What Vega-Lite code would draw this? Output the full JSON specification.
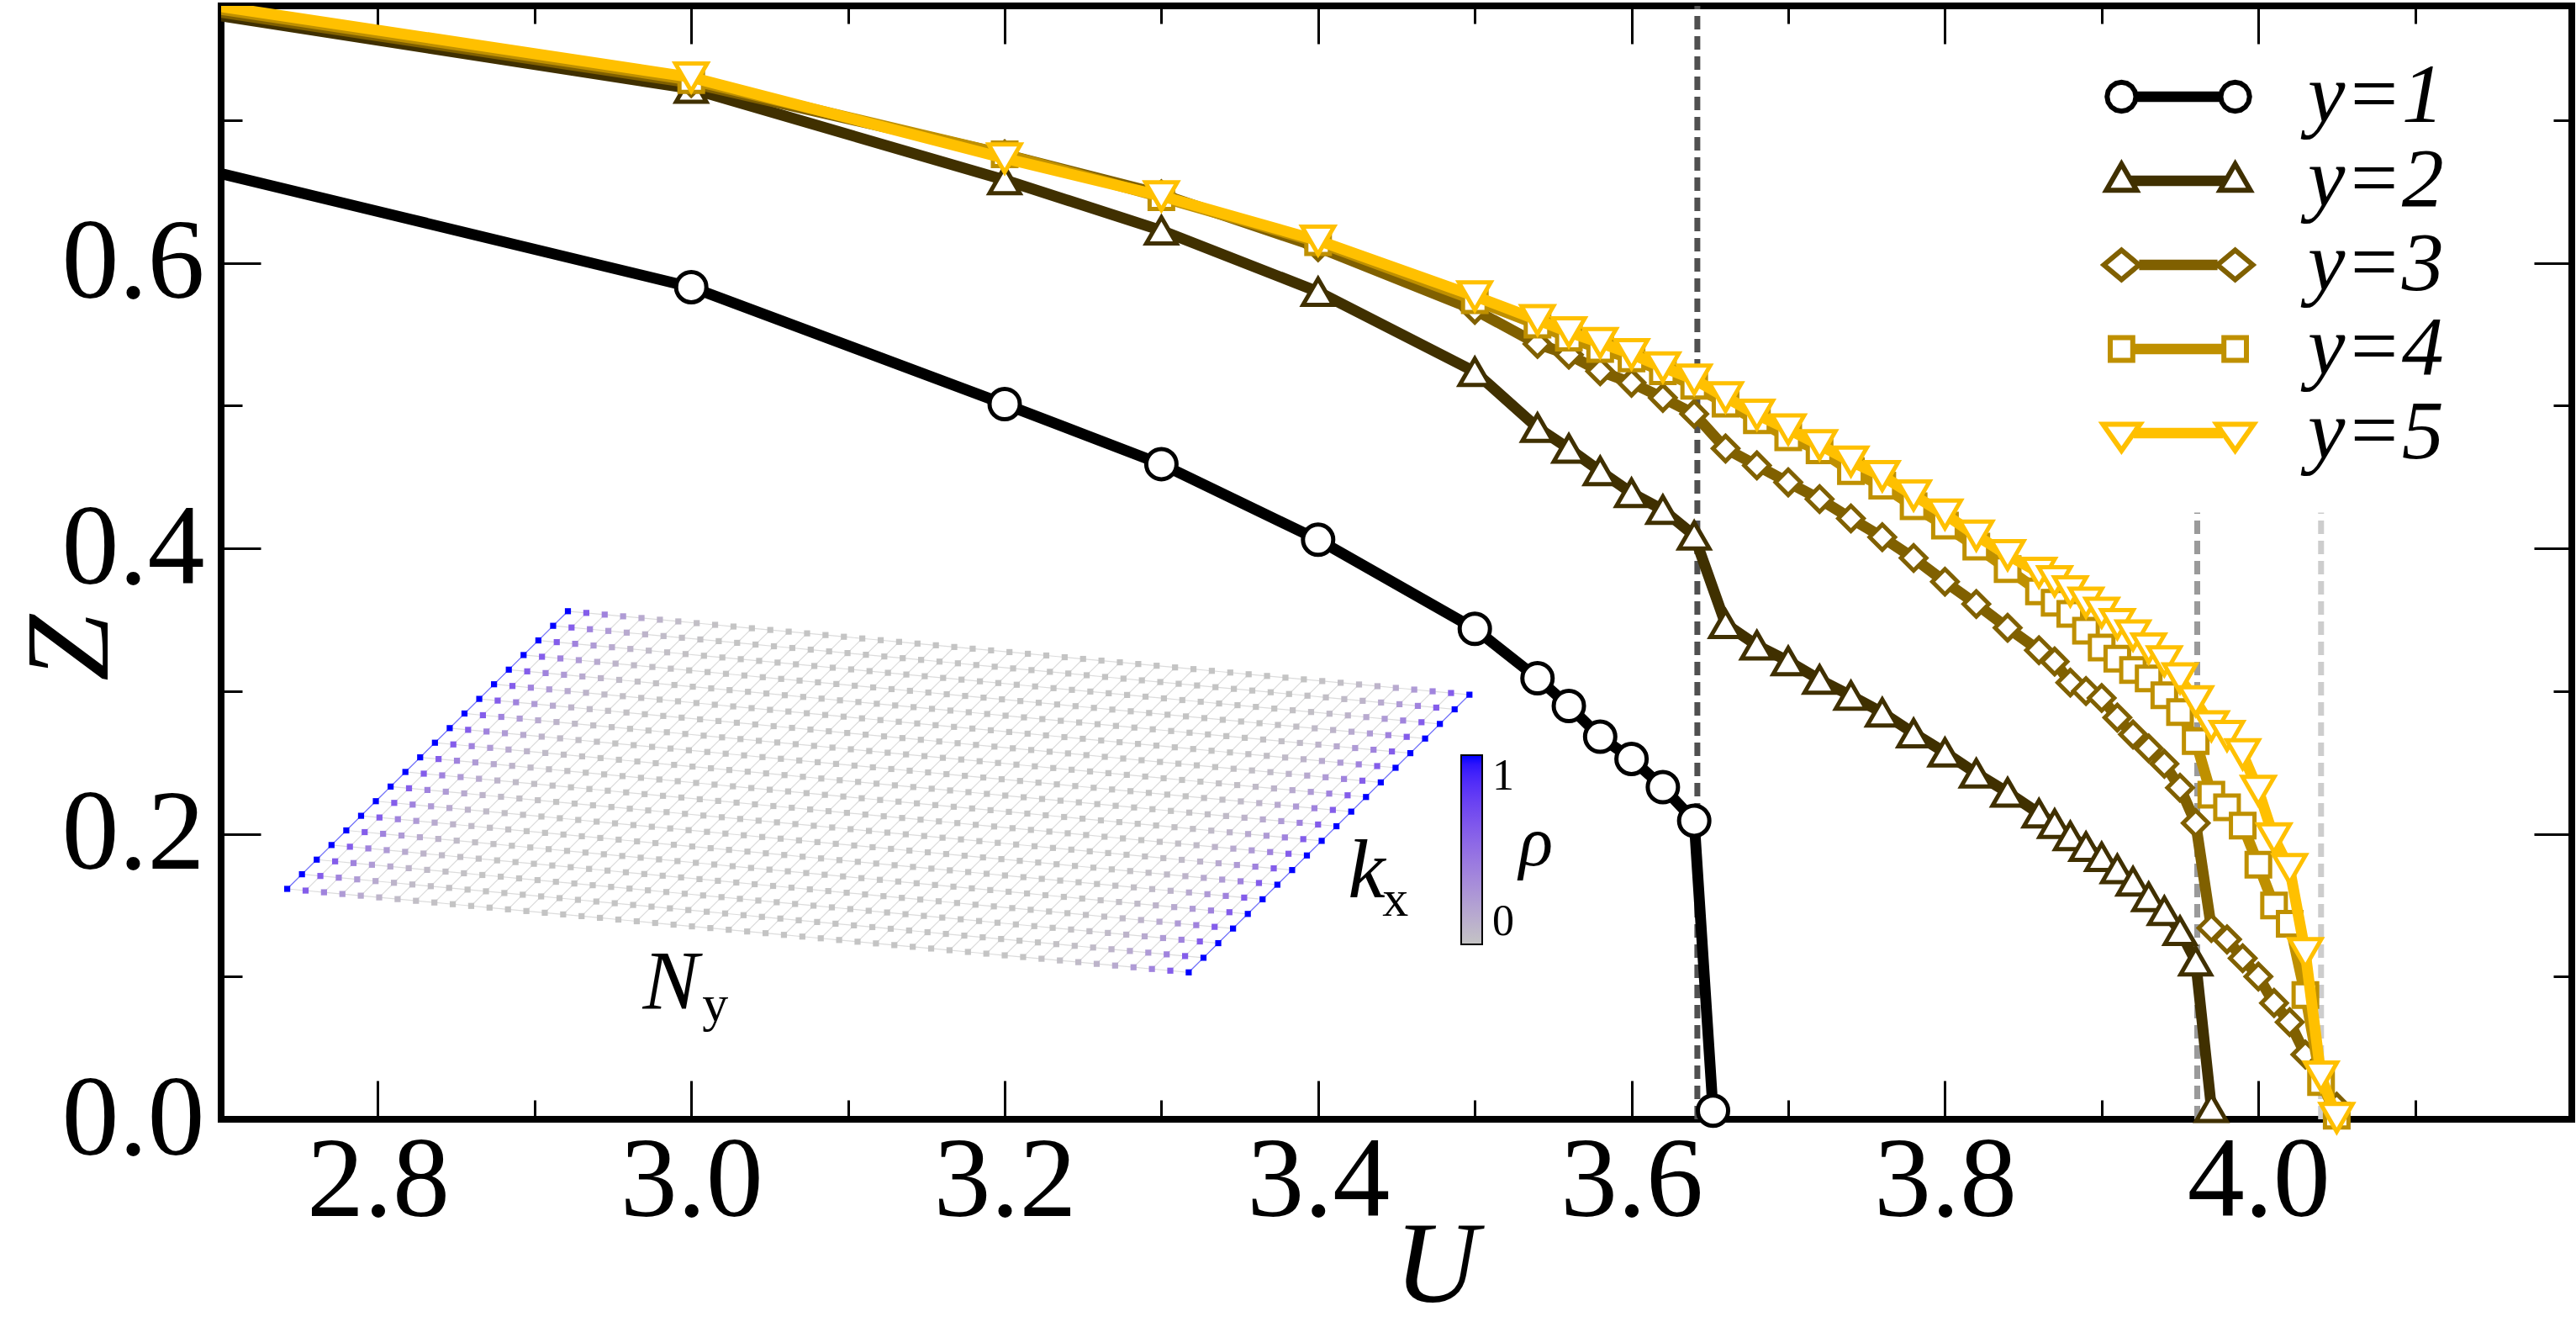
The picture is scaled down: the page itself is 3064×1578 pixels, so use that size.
{
"$schema": "https://vega.github.io/schema/vega-lite/v6.json",
"width": 2796, "height": 1324,
"autosize": {"type": "none"},
"padding": {"left": 263, "top": 7, "right": 5, "bottom": 247},
"config": {"view": {"stroke": "#000000", "strokeWidth": 8}, "font": "Liberation Serif"},
"datasets": {
"series": [
{"s":"y=1","U":2.6,"Z":0.689},{"s":"y=1","U":3.0,"Z":0.583},{"s":"y=1","U":3.2,"Z":0.501},{"s":"y=1","U":3.3,"Z":0.459},{"s":"y=1","U":3.4,"Z":0.406},{"s":"y=1","U":3.5,"Z":0.3436},{"s":"y=1","U":3.54,"Z":0.309},{"s":"y=1","U":3.56,"Z":0.2896},{"s":"y=1","U":3.58,"Z":0.268},{"s":"y=1","U":3.6,"Z":0.2525},{"s":"y=1","U":3.62,"Z":0.2327},{"s":"y=1","U":3.64,"Z":0.2092},{"s":"y=1","U":3.652,"Z":0.006},
{"s":"y=2","U":2.6,"Z":0.79},{"s":"y=2","U":3.0,"Z":0.722},{"s":"y=2","U":3.2,"Z":0.658},{"s":"y=2","U":3.3,"Z":0.6227},{"s":"y=2","U":3.4,"Z":0.5797},{"s":"y=2","U":3.5,"Z":0.5237},{"s":"y=2","U":3.54,"Z":0.4845},{"s":"y=2","U":3.56,"Z":0.4699},{"s":"y=2","U":3.58,"Z":0.4541},{"s":"y=2","U":3.6,"Z":0.4388},{"s":"y=2","U":3.62,"Z":0.427},{"s":"y=2","U":3.64,"Z":0.409},{"s":"y=2","U":3.66,"Z":0.347},{"s":"y=2","U":3.68,"Z":0.332},{"s":"y=2","U":3.7,"Z":0.321},{"s":"y=2","U":3.72,"Z":0.308},{"s":"y=2","U":3.74,"Z":0.2968},{"s":"y=2","U":3.76,"Z":0.285},{"s":"y=2","U":3.78,"Z":0.2705},{"s":"y=2","U":3.8,"Z":0.257},{"s":"y=2","U":3.82,"Z":0.2424},{"s":"y=2","U":3.84,"Z":0.229},{"s":"y=2","U":3.86,"Z":0.2143},{"s":"y=2","U":3.87,"Z":0.207},{"s":"y=2","U":3.88,"Z":0.1985},{"s":"y=2","U":3.89,"Z":0.191},{"s":"y=2","U":3.9,"Z":0.1838},{"s":"y=2","U":3.91,"Z":0.1753},{"s":"y=2","U":3.92,"Z":0.1667},{"s":"y=2","U":3.93,"Z":0.1557},{"s":"y=2","U":3.94,"Z":0.146},{"s":"y=2","U":3.95,"Z":0.132},{"s":"y=2","U":3.96,"Z":0.1107},{"s":"y=2","U":3.97,"Z":0.008},
{"s":"y=3","U":2.6,"Z":0.792},{"s":"y=3","U":3.0,"Z":0.726},{"s":"y=3","U":3.2,"Z":0.676},{"s":"y=3","U":3.3,"Z":0.648},{"s":"y=3","U":3.4,"Z":0.611},{"s":"y=3","U":3.5,"Z":0.567},{"s":"y=3","U":3.54,"Z":0.5432},{"s":"y=3","U":3.56,"Z":0.5357},{"s":"y=3","U":3.58,"Z":0.524},{"s":"y=3","U":3.6,"Z":0.516},{"s":"y=3","U":3.62,"Z":0.5054},{"s":"y=3","U":3.64,"Z":0.4942},{"s":"y=3","U":3.66,"Z":0.4699},{"s":"y=3","U":3.68,"Z":0.4581},{"s":"y=3","U":3.7,"Z":0.4462},{"s":"y=3","U":3.72,"Z":0.4345},{"s":"y=3","U":3.74,"Z":0.4209},{"s":"y=3","U":3.76,"Z":0.4078},{"s":"y=3","U":3.78,"Z":0.3932},{"s":"y=3","U":3.8,"Z":0.3766},{"s":"y=3","U":3.82,"Z":0.361},{"s":"y=3","U":3.84,"Z":0.3443},{"s":"y=3","U":3.86,"Z":0.3286},{"s":"y=3","U":3.87,"Z":0.3207},{"s":"y=3","U":3.88,"Z":0.3059},{"s":"y=3","U":3.89,"Z":0.3},{"s":"y=3","U":3.9,"Z":0.2951},{"s":"y=3","U":3.91,"Z":0.2814},{"s":"y=3","U":3.92,"Z":0.2696},{"s":"y=3","U":3.93,"Z":0.2598},{"s":"y=3","U":3.94,"Z":0.249},{"s":"y=3","U":3.95,"Z":0.2323},{"s":"y=3","U":3.96,"Z":0.2075},{"s":"y=3","U":3.97,"Z":0.134},{"s":"y=3","U":3.98,"Z":0.126},{"s":"y=3","U":3.99,"Z":0.1128},{"s":"y=3","U":4.0,"Z":0.1},{"s":"y=3","U":4.01,"Z":0.0815},{"s":"y=3","U":4.02,"Z":0.068},{"s":"y=3","U":4.03,"Z":0.0454},{"s":"y=3","U":4.05,"Z":0.0088},
{"s":"y=4","U":2.6,"Z":0.794},{"s":"y=4","U":3.0,"Z":0.728},{"s":"y=4","U":3.2,"Z":0.676},{"s":"y=4","U":3.3,"Z":0.646},{"s":"y=4","U":3.4,"Z":0.6144},{"s":"y=4","U":3.5,"Z":0.5738},{"s":"y=4","U":3.54,"Z":0.5567},{"s":"y=4","U":3.56,"Z":0.5476},{"s":"y=4","U":3.58,"Z":0.5397},{"s":"y=4","U":3.6,"Z":0.533},{"s":"y=4","U":3.62,"Z":0.524},{"s":"y=4","U":3.64,"Z":0.5138},{"s":"y=4","U":3.66,"Z":0.5014},{"s":"y=4","U":3.68,"Z":0.4897},{"s":"y=4","U":3.7,"Z":0.4778},{"s":"y=4","U":3.72,"Z":0.4687},{"s":"y=4","U":3.74,"Z":0.4541},{"s":"y=4","U":3.76,"Z":0.4439},{"s":"y=4","U":3.78,"Z":0.4294},{"s":"y=4","U":3.8,"Z":0.4159},{"s":"y=4","U":3.82,"Z":0.4012},{"s":"y=4","U":3.84,"Z":0.3855},{"s":"y=4","U":3.86,"Z":0.3698},{"s":"y=4","U":3.87,"Z":0.3619},{"s":"y=4","U":3.88,"Z":0.354},{"s":"y=4","U":3.89,"Z":0.3423},{"s":"y=4","U":3.9,"Z":0.3305},{"s":"y=4","U":3.91,"Z":0.3227},{"s":"y=4","U":3.92,"Z":0.3148},{"s":"y=4","U":3.93,"Z":0.3089},{"s":"y=4","U":3.94,"Z":0.2971},{"s":"y=4","U":3.95,"Z":0.2853},{"s":"y=4","U":3.96,"Z":0.265},{"s":"y=4","U":3.97,"Z":0.2274},{"s":"y=4","U":3.98,"Z":0.2186},{"s":"y=4","U":3.99,"Z":0.2058},{"s":"y=4","U":4.0,"Z":0.1783},{"s":"y=4","U":4.01,"Z":0.1498},{"s":"y=4","U":4.02,"Z":0.137},{"s":"y=4","U":4.03,"Z":0.087},{"s":"y=4","U":4.04,"Z":0.0261},{"s":"y=4","U":4.05,"Z":0.0025},
{"s":"y=5","U":2.6,"Z":0.796},{"s":"y=5","U":3.0,"Z":0.73},{"s":"y=5","U":3.2,"Z":0.6732},{"s":"y=5","U":3.3,"Z":0.6468},{"s":"y=5","U":3.4,"Z":0.6157},{"s":"y=5","U":3.5,"Z":0.5767},{"s":"y=5","U":3.54,"Z":0.56},{"s":"y=5","U":3.56,"Z":0.5515},{"s":"y=5","U":3.58,"Z":0.544},{"s":"y=5","U":3.6,"Z":0.5361},{"s":"y=5","U":3.62,"Z":0.5269},{"s":"y=5","U":3.64,"Z":0.5183},{"s":"y=5","U":3.66,"Z":0.5059},{"s":"y=5","U":3.68,"Z":0.4937},{"s":"y=5","U":3.7,"Z":0.4834},{"s":"y=5","U":3.72,"Z":0.4724},{"s":"y=5","U":3.74,"Z":0.4609},{"s":"y=5","U":3.76,"Z":0.4507},{"s":"y=5","U":3.78,"Z":0.4371},{"s":"y=5","U":3.8,"Z":0.4238},{"s":"y=5","U":3.82,"Z":0.409},{"s":"y=5","U":3.84,"Z":0.3953},{"s":"y=5","U":3.86,"Z":0.383},{"s":"y=5","U":3.87,"Z":0.377},{"s":"y=5","U":3.88,"Z":0.37},{"s":"y=5","U":3.89,"Z":0.362},{"s":"y=5","U":3.9,"Z":0.355},{"s":"y=5","U":3.91,"Z":0.347},{"s":"y=5","U":3.92,"Z":0.339},{"s":"y=5","U":3.93,"Z":0.33},{"s":"y=5","U":3.94,"Z":0.321},{"s":"y=5","U":3.95,"Z":0.309},{"s":"y=5","U":3.96,"Z":0.293},{"s":"y=5","U":3.97,"Z":0.2755},{"s":"y=5","U":3.98,"Z":0.2686},{"s":"y=5","U":3.99,"Z":0.2558},{"s":"y=5","U":4.0,"Z":0.2303},{"s":"y=5","U":4.01,"Z":0.1969},{"s":"y=5","U":4.02,"Z":0.1754},{"s":"y=5","U":4.03,"Z":0.1165},{"s":"y=5","U":4.04,"Z":0.03},{"s":"y=5","U":4.05,"Z":0.001}
],
"lattice": [
{"j":0,"rho":1,"i":[0,1,2,3,4,5,6,7,8,9,10,11,12,13,14,15,16,17,18,19]},
{"j":1,"rho":0.6,"i":[0,1,2,3,4,5,6,7,8,9,10,11,12,13,14,15,16,17,18,19]},
{"j":2,"rho":0.38,"i":[0,1,2,3,4,5,6,7,8,9,10,11,12,13,14,15,16,17,18,19]},
{"j":3,"rho":0.24,"i":[0,1,2,3,4,5,6,7,8,9,10,11,12,13,14,15,16,17,18,19]},
{"j":4,"rho":0.15,"i":[0,1,2,3,4,5,6,7,8,9,10,11,12,13,14,15,16,17,18,19]},
{"j":5,"rho":0.09,"i":[0,1,2,3,4,5,6,7,8,9,10,11,12,13,14,15,16,17,18,19]},
{"j":6,"rho":0.05,"i":[0,1,2,3,4,5,6,7,8,9,10,11,12,13,14,15,16,17,18,19]},
{"j":7,"rho":0.03,"i":[0,1,2,3,4,5,6,7,8,9,10,11,12,13,14,15,16,17,18,19]},
{"j":8,"rho":0.015,"i":[0,1,2,3,4,5,6,7,8,9,10,11,12,13,14,15,16,17,18,19]},
{"j":9,"rho":0,"i":[0,1,2,3,4,5,6,7,8,9,10,11,12,13,14,15,16,17,18,19]},
{"j":10,"rho":0,"i":[0,1,2,3,4,5,6,7,8,9,10,11,12,13,14,15,16,17,18,19]},
{"j":11,"rho":0,"i":[0,1,2,3,4,5,6,7,8,9,10,11,12,13,14,15,16,17,18,19]},
{"j":12,"rho":0,"i":[0,1,2,3,4,5,6,7,8,9,10,11,12,13,14,15,16,17,18,19]},
{"j":13,"rho":0,"i":[0,1,2,3,4,5,6,7,8,9,10,11,12,13,14,15,16,17,18,19]},
{"j":14,"rho":0,"i":[0,1,2,3,4,5,6,7,8,9,10,11,12,13,14,15,16,17,18,19]},
{"j":15,"rho":0,"i":[0,1,2,3,4,5,6,7,8,9,10,11,12,13,14,15,16,17,18,19]},
{"j":16,"rho":0,"i":[0,1,2,3,4,5,6,7,8,9,10,11,12,13,14,15,16,17,18,19]},
{"j":17,"rho":0,"i":[0,1,2,3,4,5,6,7,8,9,10,11,12,13,14,15,16,17,18,19]},
{"j":18,"rho":0,"i":[0,1,2,3,4,5,6,7,8,9,10,11,12,13,14,15,16,17,18,19]},
{"j":19,"rho":0,"i":[0,1,2,3,4,5,6,7,8,9,10,11,12,13,14,15,16,17,18,19]},
{"j":20,"rho":0,"i":[0,1,2,3,4,5,6,7,8,9,10,11,12,13,14,15,16,17,18,19]},
{"j":21,"rho":0,"i":[0,1,2,3,4,5,6,7,8,9,10,11,12,13,14,15,16,17,18,19]},
{"j":22,"rho":0,"i":[0,1,2,3,4,5,6,7,8,9,10,11,12,13,14,15,16,17,18,19]},
{"j":23,"rho":0,"i":[0,1,2,3,4,5,6,7,8,9,10,11,12,13,14,15,16,17,18,19]},
{"j":24,"rho":0,"i":[0,1,2,3,4,5,6,7,8,9,10,11,12,13,14,15,16,17,18,19]},
{"j":25,"rho":0,"i":[0,1,2,3,4,5,6,7,8,9,10,11,12,13,14,15,16,17,18,19]},
{"j":26,"rho":0,"i":[0,1,2,3,4,5,6,7,8,9,10,11,12,13,14,15,16,17,18,19]},
{"j":27,"rho":0,"i":[0,1,2,3,4,5,6,7,8,9,10,11,12,13,14,15,16,17,18,19]},
{"j":28,"rho":0,"i":[0,1,2,3,4,5,6,7,8,9,10,11,12,13,14,15,16,17,18,19]},
{"j":29,"rho":0,"i":[0,1,2,3,4,5,6,7,8,9,10,11,12,13,14,15,16,17,18,19]},
{"j":30,"rho":0,"i":[0,1,2,3,4,5,6,7,8,9,10,11,12,13,14,15,16,17,18,19]},
{"j":31,"rho":0,"i":[0,1,2,3,4,5,6,7,8,9,10,11,12,13,14,15,16,17,18,19]},
{"j":32,"rho":0,"i":[0,1,2,3,4,5,6,7,8,9,10,11,12,13,14,15,16,17,18,19]},
{"j":33,"rho":0,"i":[0,1,2,3,4,5,6,7,8,9,10,11,12,13,14,15,16,17,18,19]},
{"j":34,"rho":0,"i":[0,1,2,3,4,5,6,7,8,9,10,11,12,13,14,15,16,17,18,19]},
{"j":35,"rho":0,"i":[0,1,2,3,4,5,6,7,8,9,10,11,12,13,14,15,16,17,18,19]},
{"j":36,"rho":0,"i":[0,1,2,3,4,5,6,7,8,9,10,11,12,13,14,15,16,17,18,19]},
{"j":37,"rho":0,"i":[0,1,2,3,4,5,6,7,8,9,10,11,12,13,14,15,16,17,18,19]},
{"j":38,"rho":0,"i":[0,1,2,3,4,5,6,7,8,9,10,11,12,13,14,15,16,17,18,19]},
{"j":39,"rho":0,"i":[0,1,2,3,4,5,6,7,8,9,10,11,12,13,14,15,16,17,18,19]},
{"j":40,"rho":0,"i":[0,1,2,3,4,5,6,7,8,9,10,11,12,13,14,15,16,17,18,19]},
{"j":41,"rho":0.015,"i":[0,1,2,3,4,5,6,7,8,9,10,11,12,13,14,15,16,17,18,19]},
{"j":42,"rho":0.03,"i":[0,1,2,3,4,5,6,7,8,9,10,11,12,13,14,15,16,17,18,19]},
{"j":43,"rho":0.05,"i":[0,1,2,3,4,5,6,7,8,9,10,11,12,13,14,15,16,17,18,19]},
{"j":44,"rho":0.09,"i":[0,1,2,3,4,5,6,7,8,9,10,11,12,13,14,15,16,17,18,19]},
{"j":45,"rho":0.15,"i":[0,1,2,3,4,5,6,7,8,9,10,11,12,13,14,15,16,17,18,19]},
{"j":46,"rho":0.24,"i":[0,1,2,3,4,5,6,7,8,9,10,11,12,13,14,15,16,17,18,19]},
{"j":47,"rho":0.38,"i":[0,1,2,3,4,5,6,7,8,9,10,11,12,13,14,15,16,17,18,19]},
{"j":48,"rho":0.6,"i":[0,1,2,3,4,5,6,7,8,9,10,11,12,13,14,15,16,17,18,19]},
{"j":49,"rho":1,"i":[0,1,2,3,4,5,6,7,8,9,10,11,12,13,14,15,16,17,18,19]}
]
},
"resolve": {"scale": {"x": "independent", "y": "independent"}},
"layer": [
{
 "data": {"name": "lattice"},
 "transform": [{"flatten": ["i"]}],
 "encoding": {
  "x": {"field": "j", "type": "ordinal", "scale": {"type": "point", "padding": 0, "range": [78.6, 1150.9]}, "axis": null},
  "xOffset": {"field": "i", "type": "quantitative", "scale": {"domain": [0, 19], "range": [0, 333.9]}},
  "y": {"field": "j", "type": "ordinal", "scale": {"type": "point", "padding": 0, "range": [1050, 1149.3]}, "axis": null},
  "yOffset": {"field": "i", "type": "quantitative", "scale": {"domain": [0, 19], "range": [0, -330.2]}}
 },
 "layer": [
  {"mark": {"type": "line", "color": "#dcdcdc", "strokeWidth": 1.2},
   "encoding": {"detail": {"field": "i", "type": "nominal"}, "order": {"field": "j", "type": "quantitative"}}},
  {"mark": {"type": "line", "color": "#dcdcdc", "strokeWidth": 1.2},
   "encoding": {"detail": {"field": "j", "type": "nominal"}, "order": {"field": "i", "type": "quantitative"}}},
  {"transform": [{"filter": "datum.rho >= 1"}], "mark": {"type": "line", "color": "#7070ff", "strokeWidth": 1.2},
   "encoding": {"detail": {"field": "j", "type": "nominal"}, "order": {"field": "i", "type": "quantitative"}}},
  {"mark": {"type": "square", "size": 52, "opacity": 1},
   "encoding": {"color": {"field": "rho", "type": "quantitative", "scale": {"domain": [0, 1], "range": ["#c4c4c4", "#0000ff"]},
    "legend": {"title": null, "orient": "none", "legendX": 1475, "legendY": 891, "direction": "vertical", "gradientLength": 225, "gradientThickness": 25, "gradientStrokeColor": "#000000", "gradientStrokeWidth": 2, "values": [0, 1], "format": ".0f", "labelFont": "Liberation Serif", "labelFontSize": 52, "labelColor": "#000000", "labelOffset": 12, "labelBaseline": "middle", "padding": 0}}}}
 ]
},
{
 "resolve": {"axis": {"x": "independent", "y": "independent"}},
 "encoding": {
  "x": {"field": "U", "type": "quantitative", "scale": {"domain": [2.7, 4.2], "nice": false, "zero": false}, "axis": null},
  "y": {"field": "Z", "type": "quantitative", "scale": {"domain": [0, 0.78], "nice": false, "zero": false}, "axis": null}
 },
 "layer": [
  {"data": {"values": [{"U": 3, "Z": 0.3}]}, "mark": {"type": "point", "opacity": 0},
   "encoding": {
    "x": {"field": "U", "type": "quantitative", "scale": {"domain": [2.7, 4.2], "nice": false, "zero": false},
     "axis": {"orient": "bottom", "values": [2.8, 3.0, 3.2, 3.4, 3.6, 3.8, 4.0], "format": ".1f", "domain": false, "ticks": false, "grid": false, "labelFont": "Liberation Serif", "labelFontSize": 136, "labelColor": "#000000", "labelBaseline": "alphabetic", "labelPadding": 114, "labelOverlap": false, "labelFlush": false, "title": "U", "titleFont": "Liberation Serif", "titleFontStyle": "italic", "titleFontWeight": "normal", "titleFontSize": 138, "titleColor": "#000000", "titleX": 1445, "titleY": 216, "titleBaseline": "alphabetic", "titleAlign": "center"}},
    "y": {"field": "Z", "type": "quantitative", "scale": {"domain": [0, 0.78], "nice": false, "zero": false},
     "axis": {"orient": "left", "values": [0, 0.2, 0.4, 0.6], "format": ".1f", "domain": false, "ticks": false, "grid": false, "labelFont": "Liberation Serif", "labelFontSize": 136, "labelColor": "#000000", "labelPadding": 20, "labelBaseline": "middle", "labelAlign": "right", "labelOverlap": false, "labelFlush": false, "title": "Z", "titleFont": "Liberation Serif", "titleFontStyle": "italic", "titleFontWeight": "normal", "titleFontSize": 142, "titleColor": "#000000", "titleAngle": 270, "titleX": -136, "titleY": 763, "titleBaseline": "alphabetic", "titleAlign": "center"}}
   }},
  {"data": {"values": [{"U": 3, "Z": 0.3}]}, "mark": {"type": "point", "opacity": 0},
   "encoding": {
    "x": {"field": "U", "type": "quantitative", "scale": {"domain": [2.7, 4.2], "nice": false, "zero": false},
     "axis": {"orient": "bottom", "values": [2.8, 3.0, 3.2, 3.4, 3.6, 3.8, 4.0], "labels": false, "domain": false, "grid": false, "ticks": true, "tickSize": -46, "tickWidth": 3, "tickColor": "#000000", "title": null}},
    "y": {"field": "Z", "type": "quantitative", "scale": {"domain": [0, 0.78], "nice": false, "zero": false},
     "axis": {"orient": "left", "values": [0.2, 0.4, 0.6], "labels": false, "domain": false, "grid": false, "ticks": true, "tickSize": -47, "tickWidth": 3, "tickColor": "#000000", "title": null}}
   }},
  {"data": {"values": [{"U": 3, "Z": 0.3}]}, "mark": {"type": "point", "opacity": 0},
   "encoding": {
    "x": {"field": "U", "type": "quantitative", "scale": {"domain": [2.7, 4.2], "nice": false, "zero": false},
     "axis": {"orient": "bottom", "values": [2.9, 3.1, 3.3, 3.5, 3.7, 3.9, 4.1], "labels": false, "domain": false, "grid": false, "ticks": true, "tickSize": -23, "tickWidth": 3, "tickColor": "#000000", "title": null}},
    "y": {"field": "Z", "type": "quantitative", "scale": {"domain": [0, 0.78], "nice": false, "zero": false},
     "axis": {"orient": "left", "values": [0.1, 0.3, 0.5, 0.7], "labels": false, "domain": false, "grid": false, "ticks": true, "tickSize": -25, "tickWidth": 3, "tickColor": "#000000", "title": null}}
   }},
  {"data": {"values": [{"U": 3, "Z": 0.3}]}, "mark": {"type": "point", "opacity": 0},
   "encoding": {
    "x": {"field": "U", "type": "quantitative", "scale": {"domain": [2.7, 4.2], "nice": false, "zero": false},
     "axis": {"orient": "top", "values": [2.8, 3.0, 3.2, 3.4, 3.6, 3.8, 4.0], "labels": false, "domain": false, "grid": false, "ticks": true, "tickSize": -45, "tickWidth": 3, "tickColor": "#000000", "title": null}},
    "y": {"field": "Z", "type": "quantitative", "scale": {"domain": [0, 0.78], "nice": false, "zero": false},
     "axis": {"orient": "right", "values": [0.2, 0.4, 0.6], "labels": false, "domain": false, "grid": false, "ticks": true, "tickSize": -45, "tickWidth": 3, "tickColor": "#000000", "title": null}}
   }},
  {"data": {"values": [{"U": 3, "Z": 0.3}]}, "mark": {"type": "point", "opacity": 0},
   "encoding": {
    "x": {"field": "U", "type": "quantitative", "scale": {"domain": [2.7, 4.2], "nice": false, "zero": false},
     "axis": {"orient": "top", "values": [2.9, 3.1, 3.3, 3.5, 3.7, 3.9, 4.1], "labels": false, "domain": false, "grid": false, "ticks": true, "tickSize": -21, "tickWidth": 3, "tickColor": "#000000", "title": null}},
    "y": {"field": "Z", "type": "quantitative", "scale": {"domain": [0, 0.78], "nice": false, "zero": false},
     "axis": {"orient": "right", "values": [0.1, 0.3, 0.5, 0.7], "labels": false, "domain": false, "grid": false, "ticks": true, "tickSize": -22, "tickWidth": 3, "tickColor": "#000000", "title": null}}
   }},
  {"data": {"values": [{"U": 3.642, "Z": 0, "Z2": 0.78}]}, "mark": {"type": "rule", "color": "#505050", "strokeWidth": 7, "strokeDash": [16, 8]}, "encoding": {"y2": {"field": "Z2"}}},
  {"data": {"values": [{"U": 3.961, "Z": 0, "Z2": 0.425}]}, "mark": {"type": "rule", "color": "#9a9a9a", "strokeWidth": 7, "strokeDash": [16, 8]}, "encoding": {"y2": {"field": "Z2"}}},
  {"data": {"values": [{"U": 4.04, "Z": 0, "Z2": 0.425}]}, "mark": {"type": "rule", "color": "#cdcdcd", "strokeWidth": 7, "strokeDash": [16, 8]}, "encoding": {"y2": {"field": "Z2"}}},
  {"data": {"values": [{"t": "N", "U": 2.969, "Z": 0.078}, {"t": "k", "U": 3.419, "Z": 0.1555}]},
   "mark": {"type": "text", "font": "Liberation Serif", "fontStyle": "italic", "fontSize": 100, "align": "left", "baseline": "alphabetic", "color": "#000000"},
   "encoding": {"text": {"field": "t"}}},
  {"data": {"values": [{"t": "y", "U": 3.007, "Z": 0.0689}, {"t": "x", "U": 3.441, "Z": 0.1426}]},
   "mark": {"type": "text", "font": "Liberation Serif", "fontSize": 62, "align": "left", "baseline": "alphabetic", "color": "#000000"},
   "encoding": {"text": {"field": "t"}}},
  {"data": {"values": [{"t": "ρ", "U": 3.539, "Z": 0.178}]},
   "mark": {"type": "text", "font": "Liberation Serif", "fontStyle": "italic", "fontSize": 84, "align": "center", "baseline": "alphabetic", "color": "#000000"},
   "encoding": {"text": {"field": "t"}}},
  {"data": {"name": "series"}, "transform": [{"filter": "datum.s == 'y=1'"}], "layer": [
   {"mark": {"type": "line", "color": "#000000", "strokeWidth": 13, "clip": true}},
   {"transform": [{"filter": "datum.U >= 2.7"}], "mark": {"type": "point", "shape": "circle", "size": 1296, "filled": true, "fill": "#ffffff", "stroke": "#000000", "strokeWidth": 5, "opacity": 1}}
  ]},
  {"data": {"name": "series"}, "transform": [{"filter": "datum.s == 'y=2'"}], "layer": [
   {"mark": {"type": "line", "color": "#403000", "strokeWidth": 13, "clip": true}},
   {"transform": [{"filter": "datum.U >= 2.7"}], "mark": {"type": "point", "shape": "triangle-up", "size": 1296, "filled": true, "fill": "#ffffff", "stroke": "#403000", "strokeWidth": 5, "opacity": 1}}
  ]},
  {"data": {"name": "series"}, "transform": [{"filter": "datum.s == 'y=3'"}], "layer": [
   {"mark": {"type": "line", "color": "#806000", "strokeWidth": 13, "clip": true}},
   {"transform": [{"filter": "datum.U >= 2.7"}], "mark": {"type": "point", "shape": "diamond", "size": 900, "filled": true, "fill": "#ffffff", "stroke": "#806000", "strokeWidth": 5, "opacity": 1}}
  ]},
  {"data": {"name": "series"}, "transform": [{"filter": "datum.s == 'y=4'"}], "layer": [
   {"mark": {"type": "line", "color": "#bf9000", "strokeWidth": 13, "clip": true}},
   {"transform": [{"filter": "datum.U >= 2.7"}], "mark": {"type": "point", "shape": "square", "size": 784, "filled": true, "fill": "#ffffff", "stroke": "#bf9000", "strokeWidth": 5, "opacity": 1}}
  ]},
  {"data": {"name": "series"}, "transform": [{"filter": "datum.s == 'y=5'"}], "layer": [
   {"mark": {"type": "line", "color": "#ffc000", "strokeWidth": 13, "clip": true}},
   {"transform": [{"filter": "datum.U >= 2.7"}], "mark": {"type": "point", "shape": "triangle-down", "size": 1444, "filled": true, "fill": "#ffffff", "stroke": "#ffc000", "strokeWidth": 5, "opacity": 1}}
  ]},
  {"data": {"values": [{"s": "y=1"}, {"s": "y=2"}, {"s": "y=3"}, {"s": "y=4"}, {"s": "y=5"}]},
   "mark": {"type": "point", "opacity": 0, "filled": false, "strokeWidth": 6},
   "encoding": {
    "shape": {"field": "s", "type": "nominal", "scale": {"domain": ["y=1", "y=2", "y=3", "y=4", "y=5"], "range": [
      "M-2.523,0L-2.588,0.328L-2.774,0.606L-3.052,0.792L-3.38,0.857L-3.708,0.792L-3.986,0.606L-4.172,0.328L-4.237,0L-4.172,-0.328L-3.986,-0.606L-3.708,-0.792L-3.38,-0.857L-3.052,-0.792L-2.774,-0.606L-2.588,-0.328ZM4.237,0L4.172,0.328L3.986,0.606L3.708,0.792L3.38,0.857L3.052,0.792L2.774,0.606L2.588,0.328L2.523,0L2.588,-0.328L2.774,-0.606L3.052,-0.792L3.38,-0.857L3.708,-0.792L3.986,-0.606L4.172,-0.328ZM-2.523,-0.16L2.523,-0.16M-2.523,0L2.523,0M-2.523,0.16L2.523,0.16",
      "M-3.38,-1L-2.48,0.56L-4.28,0.56ZM3.38,-1L4.28,0.56L2.48,0.56ZM-2.8,-0.16L2.8,-0.16M-2.8,0L2.8,0M-2.8,0.16L2.8,0.16",
      "M-4.43,0L-3.38,-0.88L-2.33,0L-3.38,0.88ZM2.33,0L3.38,-0.88L4.43,0L3.38,0.88ZM-2.33,-0.16L2.33,-0.16M-2.33,0L2.33,0M-2.33,0.16L2.33,0.16",
      "M-4.05,-0.67L-2.71,-0.67L-2.71,0.67L-4.05,0.67ZM2.71,-0.67L4.05,-0.67L4.05,0.67L2.71,0.67ZM-2.71,-0.16L2.71,-0.16M-2.71,0L2.71,0M-2.71,0.16L2.71,0.16",
      "M-4.48,-0.52L-2.28,-0.52L-3.38,1.04ZM2.28,-0.52L4.48,-0.52L3.38,1.04ZM-2.647,-0.16L2.647,-0.16M-2.647,0L2.647,0M-2.647,0.16L2.647,0.16"
     ]},
     "legend": {"title": null, "orient": "none", "legendX": 2278, "legendY": 58, "padding": 0, "symbolSize": 1600, "symbolStrokeWidth": 6, "symbolFillColor": "#ffffff", "symbolOpacity": 1, "labelFont": "Liberation Serif", "labelFontStyle": "italic", "labelFontSize": 100, "labelColor": "#000000", "labelOffset": 104, "labelLimit": 1000, "rowPadding": 0}},
    "stroke": {"field": "s", "type": "nominal", "scale": {"domain": ["y=1", "y=2", "y=3", "y=4", "y=5"], "range": ["#000000", "#403000", "#806000", "#bf9000", "#ffc000"]},
     "legend": {"title": null, "orient": "none", "legendX": 2278, "legendY": 58, "padding": 0, "symbolSize": 1600, "symbolStrokeWidth": 6, "symbolFillColor": "#ffffff", "symbolOpacity": 1, "labelFont": "Liberation Serif", "labelFontStyle": "italic", "labelFontSize": 100, "labelColor": "#000000", "labelOffset": 104, "labelLimit": 1000, "rowPadding": 0}}
   }}
 ]
}
]
}
